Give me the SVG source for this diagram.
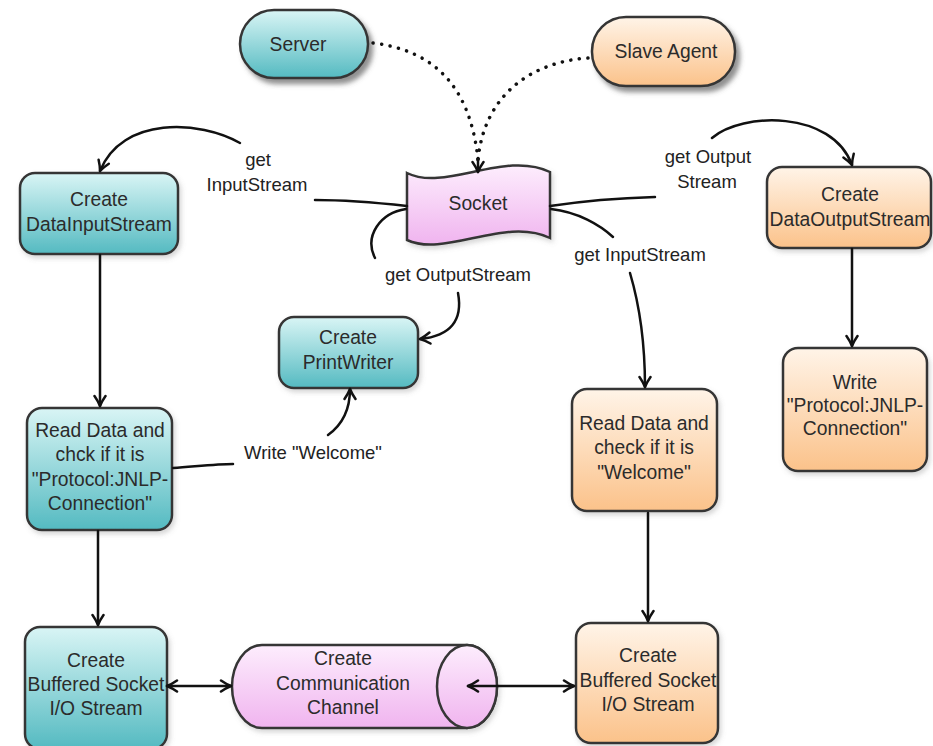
<svg xmlns="http://www.w3.org/2000/svg" width="933" height="746" viewBox="0 0 933 746">
  <style>
    .node { stroke: #363636; stroke-width: 2.5; }
    .teal { fill: url(#gTeal); }
    .orange { fill: url(#gOrange); }
    .pink { fill: url(#gPink); }
    .txt { font-family: "Liberation Sans", Arial, sans-serif; font-size: 19.3px; fill: #2b2b2b; text-anchor: middle; }
    .lbl { font-family: "Liberation Sans", Arial, sans-serif; font-size: 18.5px; fill: #222; text-anchor: middle; }
    .edge { fill: none; stroke: #111; stroke-width: 2.5; stroke-linecap: round; }
    .arrow { marker-end: url(#arr); }
    .both { marker-start: url(#arr); marker-end: url(#arr); }
    .dots { fill: none; stroke: #111; stroke-width: 3.5; stroke-linecap: round; stroke-dasharray: 0.1 8.5; }
  </style>
  <defs>
    <linearGradient id="gTeal" x1="0" y1="0" x2="0" y2="1">
      <stop offset="0" stop-color="#d9f5f5"/>
      <stop offset="1" stop-color="#54bac1"/>
    </linearGradient>
    <linearGradient id="gOrange" x1="0" y1="0" x2="0" y2="1">
      <stop offset="0" stop-color="#fff4e8"/>
      <stop offset="1" stop-color="#fbc28a"/>
    </linearGradient>
    <linearGradient id="gPink" x1="0" y1="0" x2="0" y2="1">
      <stop offset="0" stop-color="#fdedfd"/>
      <stop offset="1" stop-color="#f0b4ef"/>
    </linearGradient>
    <filter id="shHeavy" x="-20%" y="-20%" width="150%" height="160%">
      <feDropShadow dx="4" dy="5" stdDeviation="2.5" flood-color="#555" flood-opacity="0.65"/>
    </filter>
    <filter id="shSoft" x="-20%" y="-20%" width="150%" height="150%">
      <feDropShadow dx="2" dy="3" stdDeviation="2.5" flood-color="#777" flood-opacity="0.3"/>
    </filter>
    <marker id="arr" viewBox="0 0 14 14" markerWidth="14" markerHeight="14" refX="12" refY="7" orient="auto-start-reverse" markerUnits="userSpaceOnUse">
      <path d="M2,1.5 Q7,5 12,7 Q7,9 2,12.5" fill="none" stroke="#111" stroke-width="2.5" stroke-linecap="round" stroke-linejoin="round"/>
    </marker>
  </defs>

  <!-- nodes -->
  <g id="server">
    <rect class="node teal" x="240" y="10" width="128" height="68" rx="34" filter="url(#shHeavy)"/>
    <text class="txt" x="298" y="51">Server</text>
  </g>

  <g id="slave-agent">
    <rect class="node orange" x="592" y="17" width="143" height="69" rx="34" filter="url(#shHeavy)"/>
    <text class="txt" x="666" y="58">Slave Agent</text>
  </g>

  <g id="socket">
    <path class="node pink" filter="url(#shSoft)" d="M407,173 C445,192 505,150 550,172 L550,238 C505,216 445,258 407,240 Z"/>
    <text class="txt" x="478" y="210">Socket</text>
  </g>

  <g id="create-datainputstream">
    <rect class="node teal" x="20" y="173" width="158" height="81" rx="15" filter="url(#shSoft)"/>
    <text class="txt" x="99" y="206">Create</text>
    <text class="txt" x="99" y="231">DataInputStream</text>
  </g>

  <g id="create-dataoutputstream">
    <rect class="node orange" x="767" y="167" width="164" height="81" rx="15" filter="url(#shSoft)"/>
    <text class="txt" x="850" y="201">Create</text>
    <text class="txt" x="850" y="226">DataOutputStream</text>
  </g>

  <g id="create-printwriter">
    <rect class="node teal" x="279" y="317" width="139" height="71" rx="15" filter="url(#shSoft)"/>
    <text class="txt" x="348" y="344">Create</text>
    <text class="txt" x="348" y="369">PrintWriter</text>
  </g>

  <g id="read-protocol">
    <rect class="node teal" x="27" y="408" width="145" height="122" rx="15" filter="url(#shSoft)"/>
    <text class="txt" x="100" y="437">Read Data and</text>
    <text class="txt" x="100" y="461">chck if it is</text>
    <text class="txt" x="100" y="486">"Protocol:JNLP-</text>
    <text class="txt" x="100" y="510">Connection"</text>
  </g>

  <g id="read-welcome">
    <rect class="node orange" x="572" y="389" width="145" height="122" rx="15" filter="url(#shSoft)"/>
    <text class="txt" x="644" y="430">Read Data and</text>
    <text class="txt" x="644" y="454">check if it  is</text>
    <text class="txt" x="644" y="479">"Welcome"</text>
  </g>

  <g id="write-protocol">
    <rect class="node orange" x="783" y="348" width="144" height="123" rx="15" filter="url(#shSoft)"/>
    <text class="txt" x="855" y="389">Write</text>
    <text class="txt" x="855" y="412">"Protocol:JNLP-</text>
    <text class="txt" x="855" y="435">Connection"</text>
  </g>

  <g id="buffered-server">
    <rect class="node teal" x="25" y="627" width="142" height="122" rx="15" filter="url(#shSoft)"/>
    <text class="txt" x="96" y="667">Create</text>
    <text class="txt" x="96" y="691">Buffered Socket</text>
    <text class="txt" x="96" y="715">I/O Stream</text>
  </g>

  <g id="buffered-agent">
    <rect class="node orange" x="576" y="623" width="142" height="120" rx="15" filter="url(#shSoft)"/>
    <text class="txt" x="648" y="662">Create</text>
    <text class="txt" x="648" y="687">Buffered Socket</text>
    <text class="txt" x="648" y="711">I/O Stream</text>
  </g>

  <g id="communication-channel">
    <path class="node pink" filter="url(#shSoft)" d="M262,645 L467,645 A30,41.5 0 0 1 467,728 L262,728 A30,41.5 0 0 1 262,645 Z"/>
    <ellipse class="node pink" cx="467" cy="686.5" rx="30" ry="41.5"/>
    <text class="txt" x="343" y="665">Create</text>
    <text class="txt" x="343" y="690">Communication</text>
    <text class="txt" x="343" y="714">Channel</text>
  </g>

  <!-- connectors (drawn above the nodes so the channel link shows inside the cylinder end) -->
  <g id="connectors">
    <!-- Server / Slave Agent to Socket -->
    <path class="dots" d="M373,43 C430,50 470,82 478,160"/>
    <path class="dots" d="M588,58 C530,62 484,96 478,160"/>
    <path class="edge arrow" d="M478,158 L478,172"/>

    <!-- get InputStream (server side) -->
    <path class="edge" d="M407,206 C380,203 345,200 315,200"/>
    <path class="edge arrow" d="M240,143 C200,120 122,116 100,171"/>

    <!-- get OutputStream (server side) -->
    <path class="edge" d="M406,209 C380,213 364,236 375,258"/>
    <path class="edge arrow" d="M458,293 C463,320 451,336 420,339"/>

    <!-- get Output Stream (agent side) -->
    <path class="edge" d="M550,206 C590,200 622,198 655,197"/>
    <path class="edge arrow" d="M712,138 C742,112 832,110 852,165"/>

    <!-- get InputStream (agent side) -->
    <path class="edge" d="M551,209 C578,212 600,225 613,237"/>
    <path class="edge arrow" d="M630,273 C638,300 645,340 645,387"/>

    <!-- vertical flows -->
    <path class="edge arrow" d="M100,255 L100,406"/>
    <path class="edge arrow" d="M852,249 L852,346"/>
    <path class="edge arrow" d="M98,531 L98,625"/>
    <path class="edge arrow" d="M648,513 L648,621"/>

    <!-- Write "Welcome" -->
    <path class="edge" d="M173,468 C200,466 218,464 233,464"/>
    <path class="edge arrow" d="M328,435 C342,425 350,410 350,389"/>

    <!-- buffered streams to channel -->
    <path class="edge both" d="M167,686 L231,686"/>
    <path class="edge both" d="M468,686 L574,686"/>

    <text class="lbl" x="258" y="166">get</text>
    <text class="lbl" x="257" y="191">InputStream</text>
    <text class="lbl" x="458" y="281">get OutputStream</text>
    <text class="lbl" x="708" y="163">get Output</text>
    <text class="lbl" x="707" y="188">Stream</text>
    <text class="lbl" x="640" y="261">get InputStream</text>
    <text class="lbl" x="313" y="459">Write "Welcome"</text>
  </g>
</svg>
